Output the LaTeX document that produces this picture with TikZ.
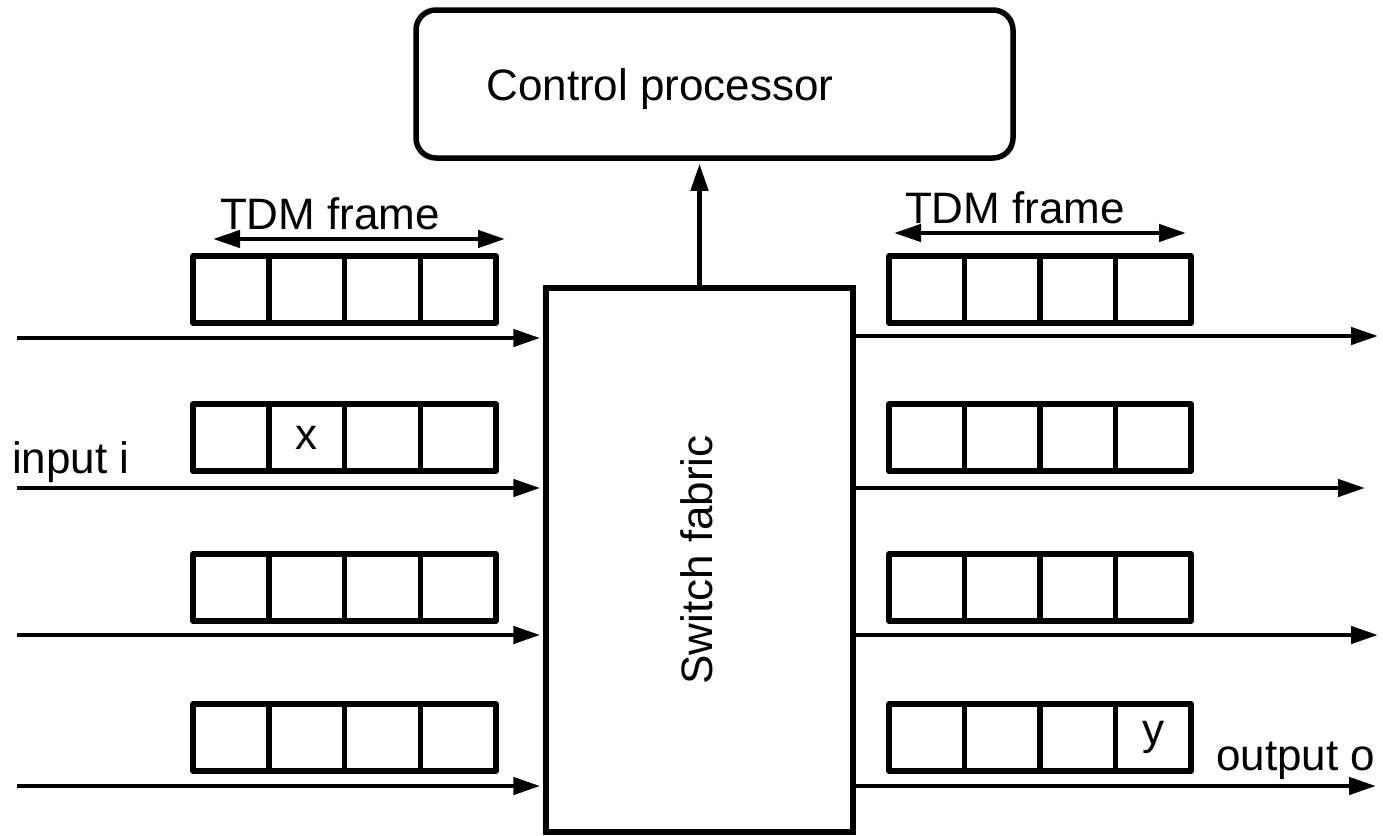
\documentclass[tikz,border=0pt]{standalone}
\usepackage{fontspec}
\setmainfont{Liberation Sans}
\usetikzlibrary{arrows.meta}
\begin{document}
\begin{tikzpicture}[x=1pt,y=-1pt,
  box/.style={draw, line width=5.5pt, inner sep=0pt},
  cell/.style={draw, line width=5.5pt, minimum width=75.75pt, minimum height=67pt,
               inner sep=0pt, line join=round, font=\fontsize{44}{50}\selectfont},
  arr/.style={line width=4.5pt, -{Triangle[length=27pt,width=17pt]}},
  span/.style={line width=4.5pt, {Triangle[length=27pt,width=17pt]}-{Triangle[length=27pt,width=17pt]}},
  lbl/.style={font=\fontsize{44}{50}\selectfont, inner sep=0pt},
]
\useasboundingbox (0,0) rectangle (1383,835);

% control processor and switch fabric
\node[box, rounded corners=20pt, minimum width=597pt, minimum height=148pt] (cp) at (714.5,84) {};
\node[lbl, anchor=base] (cptext) at (660,100) {Control processor};
\node[box, minimum width=307pt, minimum height=544pt] (sw) at (699.5,560) {};
\node[lbl, rotate=90] (swtext) at (697,560) {Switch fabric};
\draw[arr, shorten >=3pt] (sw.north) -- (sw.north |- cp.south);

% TDM frames on the input side and the output side
\foreach \r/\yc in {1/289.5, 2/437.5, 3/587.5, 4/737.5} {
  \foreach \k in {1,...,4} {
    \node[cell] (L\r c\k) at ({193+75.75*(\k-0.5)},\yc) {};
    \node[cell] (R\r c\k) at ({889+75.5*(\k-0.5)},\yc) {};
  }
}
\node[lbl] (xlab) at (L2c2) {x};
\node[lbl] (ylab) at (R4c4) {y};

% input lines
\coordinate (in1) at (17,338);
\coordinate (in2) at (17,488);
\coordinate (in3) at (17,635);
\coordinate (in4) at (17,786);
\foreach \r in {1,...,4} {
  \draw[arr, shorten >=3pt] (in\r) -- (in\r -| sw.west);
}

% output lines
\coordinate (out1) at (1378,336);
\coordinate (out2) at (1365,488);
\coordinate (out3) at (1378,635);
\coordinate (out4) at (1376,786);
\foreach \r in {1,...,4} {
  \draw[arr] (out\r -| sw.east) -- (out\r);
}

% labels
\node[lbl, anchor=base west] (inlab) at (12,473) {input i};
\node[lbl, anchor=base west] (outlab) at (1216,770) {output o};

% frame length markers
\node[lbl, anchor=base] (tdmL) at (330,229) {TDM frame};
\coordinate (tLa) at (213,239);
\coordinate (tLb) at (505,239);
\draw[span] (tLa) -- (tLb);
\node[lbl, anchor=base] (tdmR) at (1015,223) {TDM frame};
\coordinate (tRa) at (894,233);
\coordinate (tRb) at (1186,233);
\draw[span] (tRa) -- (tRb);
\end{tikzpicture}
\end{document}
